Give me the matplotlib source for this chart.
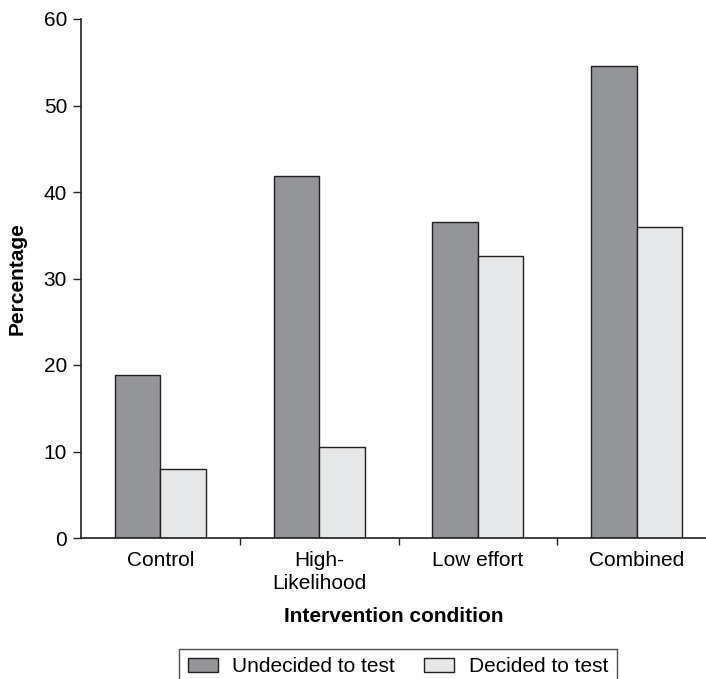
import numpy as np
import matplotlib
matplotlib.use('Agg')
import matplotlib.pyplot as plt

categories = ['Control', 'High-\nLikelihood', 'Low effort', 'Combined']
undecided = [18.8, 41.8, 36.5, 54.6]
decided = [8.0, 10.5, 32.6, 35.9]
series_names = ['Undecided to test', 'Decided to test']

plt.rcParams['font.family'] = ['Liberation Sans', 'DejaVu Sans']
fs = 15

fig = plt.figure(figsize=(7.06, 6.79), dpi=100)
ax = fig.add_axes([81/706, 1 - 538/679, 1 - 81/706, (538 - 19)/679])

x = np.arange(len(categories))
w = 0.287
edge = '#231f20'
ax.bar(x - w/2, undecided, w, color='#939598', edgecolor=edge, linewidth=1.0,
       label=series_names[0])
ax.bar(x + w/2, decided, w, color='#e6e7e8', edgecolor=edge, linewidth=1.0,
       label=series_names[1])

ax.set_xlim(-0.5, 3.5 - 10/158.5)
ax.set_ylim(0, 60)
ax.set_yticks(np.arange(0, 61, 10))
ax.set_xticks(x)
ax.set_xticklabels(categories, fontsize=fs, linespacing=1.3)
ax.set_xticks(x[:-1] + 0.5, minor=True)
ax.tick_params(axis='x', which='major', length=0, pad=9)
ax.tick_params(axis='x', which='minor', length=5, width=1, color=edge)
ax.tick_params(axis='y', length=6, width=1, color=edge, labelsize=fs, pad=4)

for s in ['top', 'right']:
    ax.spines[s].set_visible(False)
for s in ['left', 'bottom']:
    ax.spines[s].set_color(edge)
    ax.spines[s].set_linewidth(1.2)

ax.set_ylabel('Percentage', fontsize=fs, fontweight='bold', labelpad=12)
ax.set_xlabel('Intervention condition', fontsize=fs, fontweight='bold', labelpad=10)

leg = fig.legend(loc='center', bbox_to_anchor=(398/706, 1 - 667/679), ncol=2,
                 fontsize=fs, frameon=True, fancybox=False, edgecolor=edge,
                 handlelength=1.43, handleheight=0.62, columnspacing=1.4,
                 borderpad=0.43, handletextpad=0.7, borderaxespad=0)
leg.get_frame().set_linewidth(1.0)

fig.savefig('out.png', dpi=100)
